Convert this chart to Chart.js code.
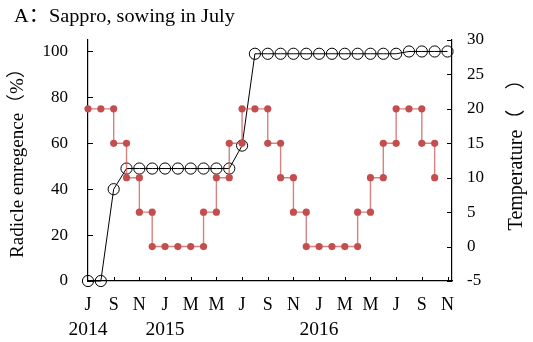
<!DOCTYPE html>
<html>
<head>
<meta charset="utf-8">
<script src="https://cdn.jsdelivr.net/npm/chart.js@4/dist/chart.umd.min.js"></script>
<style>
  html, body { margin: 0; padding: 0; background: #fff; }
  #wrap { width: 533px; height: 342px; position: relative; }
</style>
</head>
<body>
<div id="wrap"><canvas id="c" width="533" height="342"></canvas></div>
<script>
// ---- text ----
const titleText = 'A：Sappro, sowing in July';
const yTitleLeft = 'Radicle emregence（%）';
const yTitleRight = 'Temperature（\u3000）';

// ---- radicle emergence (%), monthly, months counted from July 2014 ----
const germMonth = [0, 1, 2, 3, 4, 5, 6, 7, 8, 9, 10, 11, 12, 13, 14, 15, 16, 17, 18, 19, 20, 21, 22, 23, 24, 25, 26, 27, 28];
const germPct   = [0, 0, 40, 49, 49, 49, 49, 49, 49, 49, 49, 49, 59, 99, 99, 99, 99, 99, 99, 99, 99, 99, 99, 99, 99, 100, 100, 100, 100];

// ---- monthly temperature (°C) as a step line; a month appears twice where the level changes ----
const tempMonth = [0, 1, 2, 2, 3, 3, 4, 4, 5, 5, 6, 7, 8, 9, 9, 10, 10, 11, 11, 12, 12, 13, 14, 14, 15, 15, 16, 16, 17, 17, 18, 19, 20, 21, 21, 22, 22, 23, 23, 24, 24, 25, 26, 26, 27, 27];
const tempC     = [20, 20, 20, 15, 15, 10, 10, 5, 5, 0, 0, 0, 0, 0, 5, 5, 10, 10, 15, 15, 20, 20, 20, 15, 15, 10, 10, 5, 5, 0, 0, 0, 0, 0, 5, 5, 10, 10, 15, 15, 20, 20, 20, 15, 15, 10];

// ---- axis ticks ----
const monthTicks = [0, 2, 4, 6, 8, 10, 12, 14, 16, 18, 20, 22, 24, 26, 28];
const monthTickLabels = ['J', 'S', 'N', 'J', 'M', 'M', 'J', 'S', 'N', 'J', 'M', 'M', 'J', 'S', 'N'];
const yearLabels = ['2014', '2015', '2016'];
const yearAt = [0, 6, 18];
const pctTicks = [0, 20, 40, 60, 80, 100];
const tempTicks = [-5, 0, 5, 10, 15, 20, 25, 30];

const serif = "'Liberation Serif', 'Times New Roman', 'Noto Sans CJK SC', serif";

function drawText(ctx, text, x, y, opts) {
  ctx.save();
  ctx.translate(x, y);
  if (opts.angle) ctx.rotate(opts.angle);
  if (opts.sx) ctx.scale(opts.sx, 1);
  ctx.font = opts.font;
  ctx.fillStyle = '#000';
  ctx.textAlign = opts.align || 'center';
  ctx.textBaseline = opts.baseline || 'middle';
  ctx.fillText(text, 0, 0);
  ctx.restore();
}

// inward tick marks, year row, titles
const framePlugin = {
  id: 'frame',
  afterDraw(chart) {
    const ctx = chart.ctx;
    const ca = chart.chartArea;
    const sx = chart.scales.x, sy = chart.scales.y, st = chart.scales.yT;
    ctx.save();
    ctx.strokeStyle = '#000';
    ctx.lineWidth = 1;
    ctx.beginPath();
    pctTicks.forEach(v => {
      const p = Math.round(sy.getPixelForValue(v)) + 0.5;
      ctx.moveTo(ca.left, p); ctx.lineTo(ca.left + 5, p);
    });
    tempTicks.forEach(v => {
      const p = Math.round(st.getPixelForValue(v)) + 0.5;
      ctx.moveTo(ca.right, p); ctx.lineTo(ca.right - 5, p);
    });
    monthTicks.forEach(v => {
      if (v === 0) return;
      const p = Math.round(sx.getPixelForValue(v)) + 0.5;
      ctx.moveTo(p, ca.bottom); ctx.lineTo(p, ca.bottom - 4);
    });
    ctx.stroke();
    ctx.restore();

    yearLabels.forEach((t, i) => {
      drawText(ctx, t, sx.getPixelForValue(yearAt[i]), 330, { font: `19.5px ${serif}` });
    });

    drawText(ctx, titleText, 14, 22, { font: `19.5px ${serif}`, align: 'left', baseline: 'alphabetic', sx: 1.04 });
    drawText(ctx, yTitleLeft, 18, 158.5, { font: `19px ${serif}`, angle: -Math.PI / 2 });
    drawText(ctx, yTitleRight, 517, 150, { font: `20px ${serif}`, angle: -Math.PI / 2 });
  }
};

new Chart(document.getElementById('c'), {
  type: 'line',
  data: {
    datasets: [
      {
        label: 'Temperature',
        data: tempMonth.map((m, i) => ({ x: m, y: tempC[i] })),
        yAxisID: 'yT',
        borderColor: 'rgba(200, 80, 80, 0.72)',
        borderWidth: 1.4,
        pointRadius: 3.6,
        pointBackgroundColor: '#c44e4e',
        pointBorderWidth: 0,
        tension: 0,
        clip: false
      },
      {
        label: 'Radicle emergence',
        data: germMonth.map((m, i) => ({ x: m, y: germPct[i] })),
        yAxisID: 'y',
        borderColor: '#000',
        borderWidth: 1,
        pointRadius: 5.6,
        pointBorderColor: '#000',
        pointBorderWidth: 1,
        pointBackgroundColor: 'rgba(255,255,255,0)',
        tension: 0,
        clip: false
      }
    ]
  },
  options: {
    responsive: false,
    animation: false,
    events: [],
    layout: { padding: { top: 40, left: 0, right: 0, bottom: 0 } },
    plugins: { legend: { display: false }, tooltip: { enabled: false }, title: { display: false } },
    scales: {
      x: {
        type: 'linear',
        position: 'bottom',
        min: 0,
        max: 28.35,
        grid: { display: false, drawTicks: false },
        border: { display: true, color: '#000', width: 1.2 },
        afterBuildTicks: s => { s.ticks = monthTicks.map(v => ({ value: v })); },
        afterFit: s => { s.height = 61; },
        ticks: {
          padding: 13,
          color: '#000',
          autoSkip: false,
          maxRotation: 0,
          font: { family: serif, size: 18 },
          callback: (v, i) => monthTickLabels[i]
        }
      },
      y: {
        position: 'left',
        min: 0,
        max: 105,
        grid: { display: false, drawTicks: false },
        border: { display: true, color: '#000', width: 1.2 },
        afterBuildTicks: s => { s.ticks = pctTicks.map(v => ({ value: v })); },
        afterFit: s => { s.width = 88; },
        ticks: { padding: 20, color: '#000', font: { family: serif, size: 17 } }
      },
      yT: {
        position: 'right',
        min: -5,
        max: 30,
        grid: { display: false, drawTicks: false },
        border: { display: true, color: '#000', width: 1.2 },
        afterBuildTicks: s => { s.ticks = tempTicks.map(v => ({ value: v })); },
        afterFit: s => { s.width = 81; },
        ticks: { padding: 15, color: '#000', font: { family: serif, size: 17 } }
      }
    }
  },
  plugins: [framePlugin]
});
</script>
</body>
</html>
